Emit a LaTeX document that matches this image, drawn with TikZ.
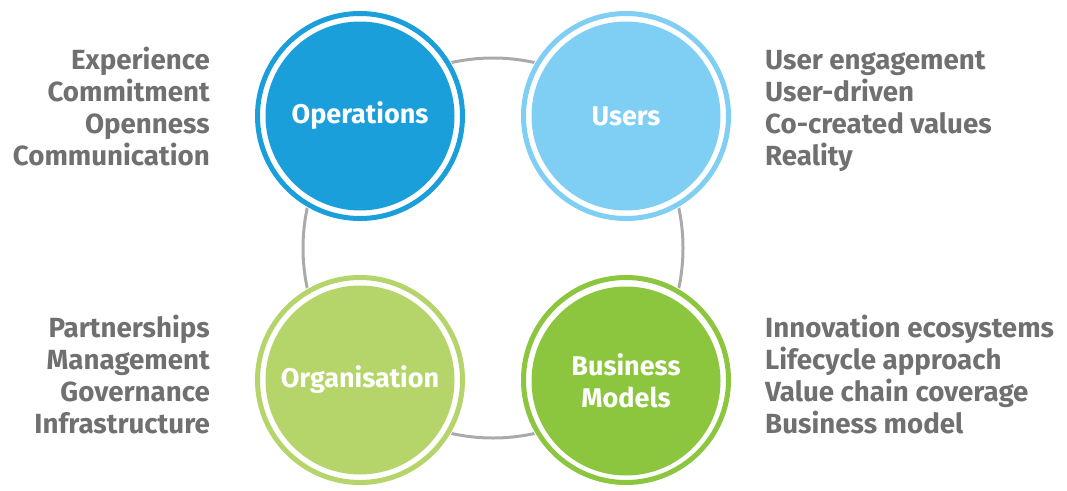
\documentclass[tikz,border=0pt]{standalone}
\usepackage{fontspec}
\setmainfont{Fira Sans}
\definecolor{opsc}{HTML}{1A9FDB}
\definecolor{usrc}{HTML}{7ECFF3}
\definecolor{orgc}{HTML}{B5D56A}
\definecolor{busc}{HTML}{8CC63F}
\definecolor{txtc}{HTML}{707070}
\definecolor{linec}{HTML}{AAAAAA}
\tikzset{
  hub/.style={circle, fill=#1, minimum size=189pt, inner sep=0pt, text=white,
    font=\bfseries\fontsize{27}{32}\selectfont, align=center},
  ringline/.style={draw=#1, line width=5pt},
  lbl/.style={text=txtc, font=\bfseries\fontsize{27.7}{32}\selectfont, inner sep=0pt},
  lblr/.style={lbl, anchor=base east},
  lbll/.style={lbl, anchor=base west},
  loop/.style={draw=linec, line width=3pt}
}
\begin{document}
\begin{tikzpicture}[x=1pt,y=-1pt]
\useasboundingbox (0,0) rectangle (1067,490);
\coordinate (mid) at (493,248);
\draw[loop] (mid) circle (190);
% circles
\foreach \x/\y/\c in {360/116/opsc, 626/116/usrc, 360/380/orgc, 626/380/busc}{
  \fill[white] (\x,\y) circle (106);
  \draw[ringline=\c] (\x,\y) circle (102.5);
}
\node[hub=opsc] (ops) at (360,116) {Operations};
\node[hub=usrc] (usr) at (626,116) {Users};
\node[hub=orgc] (org) at (360,380) {Organisation};
\node[hub=busc] (bus) at (626,381) {Business\\Models};
% left top
\node[lblr] (a1) at (210,69) {Experience};
\node[lblr] (a2) at (210,101) {Commitment};
\node[lblr] (a3) at (210,133) {Openness};
\node[lblr] (a4) at (210,165) {Communication};
% right top
\node[lbll] (b1) at (765,69) {User engagement};
\node[lbll] (b2) at (765,101) {User-driven};
\node[lbll] (b3) at (765,133) {Co-created values};
\node[lbll] (b4) at (765,165) {Reality};
% left bottom
\node[lblr] (c1) at (210,337) {Partnerships};
\node[lblr] (c2) at (210,369) {Management};
\node[lblr] (c3) at (210,401) {Governance};
\node[lblr] (c4) at (210,433) {Infrastructure};
% right bottom
\node[lbll] (d1) at (765,337) {Innovation ecosystems};
\node[lbll] (d2) at (765,369) {Lifecycle approach};
\node[lbll] (d3) at (765,401) {Value chain coverage};
\node[lbll] (d4) at (765,433) {Business model};
\end{tikzpicture}
\end{document}
